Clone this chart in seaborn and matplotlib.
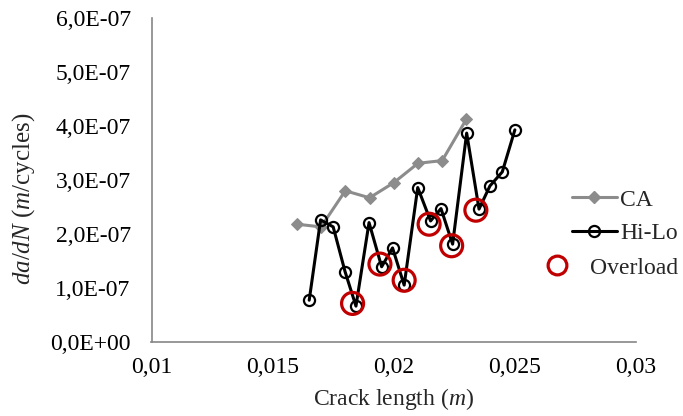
import matplotlib
matplotlib.use("Agg")
import matplotlib.pyplot as plt
import seaborn as sns
import pandas as pd
from matplotlib.lines import Line2D

# ---- data ----
ca_x = [0.016, 0.017, 0.018, 0.019, 0.020, 0.021, 0.022, 0.023]
ca_y = [2.18e-7, 2.13e-7, 2.80e-7, 2.67e-7, 2.95e-7, 3.31e-7, 3.36e-7, 4.13e-7]

hilo_x = [0.01651, 0.01698, 0.0175, 0.01799, 0.01844, 0.01898, 0.0195, 0.01995,
          0.02043, 0.02099, 0.02152, 0.02195, 0.02243, 0.02301, 0.02352, 0.02397,
          0.02448, 0.0250]
hilo_y = [0.77e-7, 2.26e-7, 2.13e-7, 1.30e-7, 0.66e-7, 2.21e-7, 1.39e-7, 1.74e-7,
          1.05e-7, 2.86e-7, 2.24e-7, 2.47e-7, 1.81e-7, 3.87e-7, 2.46e-7, 2.89e-7,
          3.15e-7, 3.93e-7]

over_x = [0.0183, 0.01943, 0.02043, 0.02146, 0.02239, 0.02339]
over_y = [0.71e-7, 1.44e-7, 1.14e-7, 2.18e-7, 1.78e-7, 2.44e-7]

x_ticks = [0.01, 0.015, 0.02, 0.025, 0.03]
x_ticklabels = ["0,01", "0,015", "0,02", "0,025", "0,03"]
y_ticks = [0, 1e-7, 2e-7, 3e-7, 4e-7, 5e-7, 6e-7]
y_ticklabels = ["0,0E+00", "1,0E-07", "2,0E-07", "3,0E-07", "4,0E-07", "5,0E-07", "6,0E-07"]

ca_df = pd.DataFrame({"x": ca_x, "y": ca_y})
hilo_df = pd.DataFrame({"x": hilo_x, "y": hilo_y})
over_df = pd.DataFrame({"x": over_x, "y": over_y})

# ---- style ----
sns.set_style("white")
plt.rcParams["font.family"] = ["Liberation Serif", "DejaVu Serif"]
plt.rcParams["mathtext.fontset"] = "custom"
plt.rcParams["mathtext.rm"] = "Liberation Serif"
plt.rcParams["mathtext.it"] = "Liberation Serif:italic"

FS = 17
GRAY = "#8c8c8c"
AXC = "#868686"
RED = "#c00000"

fig = plt.figure(figsize=(6.83, 4.16), dpi=100)
W, H = 683, 416
ax = fig.add_axes([151.5 / W, 1 - 341.7 / H, (636 - 151.5) / W, (341.7 - 18.3) / H])

sns.lineplot(data=ca_df, x="x", y="y", ax=ax, sort=False, color=GRAY, lw=2.2,
             marker="D", markersize=6, markerfacecolor=GRAY, markeredgecolor=GRAY)
sns.lineplot(data=hilo_df, x="x", y="y", ax=ax, sort=False, color="black", lw=2.2,
             marker="o", markersize=8, markerfacecolor="none", markeredgecolor="black",
             markeredgewidth=1.6)
sns.scatterplot(data=over_df, x="x", y="y", ax=ax, marker="o", s=250,
                facecolors="none", edgecolor=RED, linewidth=2.3, zorder=5)

ax.set_xlim(0.01, 0.03)
ax.set_ylim(0, 6e-7)
ax.set_xticks(x_ticks)
ax.set_xticklabels(x_ticklabels)
ax.set_yticks(y_ticks)
ax.set_yticklabels(y_ticklabels)

for s in ["top", "right"]:
    ax.spines[s].set_visible(False)
for s in ["left", "bottom"]:
    ax.spines[s].set_color(AXC)
    ax.spines[s].set_linewidth(1.2)
ax.tick_params(axis="both", which="both", direction="out", length=5, width=1.2,
               color=AXC, labelsize=FS, labelcolor="black")
ax.tick_params(axis="y", pad=10)
ax.tick_params(axis="x", pad=6)
ax.grid(False)

ax.set_xlabel(r"Crack length ($m$)", fontsize=FS, labelpad=6)
ax.set_ylabel(r"$da/dN$ ($m$/cycles)", fontsize=18)
ax.yaxis.set_label_coords(-0.237, 0.441)

# legends
h1 = Line2D([], [], color=GRAY, lw=2.2, marker="D", markersize=6,
            markerfacecolor=GRAY, markeredgecolor=GRAY)
h2 = Line2D([], [], color="black", lw=2.2, marker="o", markersize=8,
            markerfacecolor="none", markeredgecolor="black", markeredgewidth=1.6)
leg1 = fig.legend([h1, h2], ["CA", "Hi-Lo"], loc="upper left",
                  bbox_to_anchor=(572 / W, 1 - 189 / H), frameon=False,
                  fontsize=FS, handlelength=1.9, handletextpad=0.15,
                  labelspacing=0.52, borderaxespad=0, borderpad=0)
h3 = Line2D([], [], ls="none", marker="o", markersize=13.5, markerfacecolor="none",
            markeredgecolor=RED, markeredgewidth=2.3)
leg2 = fig.legend([h3], ["Overload"], loc="upper left",
                  bbox_to_anchor=(543 / W, 1 - 257 / H), frameon=False,
                  fontsize=FS, handlelength=1.2, handletextpad=0.8,
                  borderaxespad=0, borderpad=0)

fig.savefig("out.png", dpi=100)
